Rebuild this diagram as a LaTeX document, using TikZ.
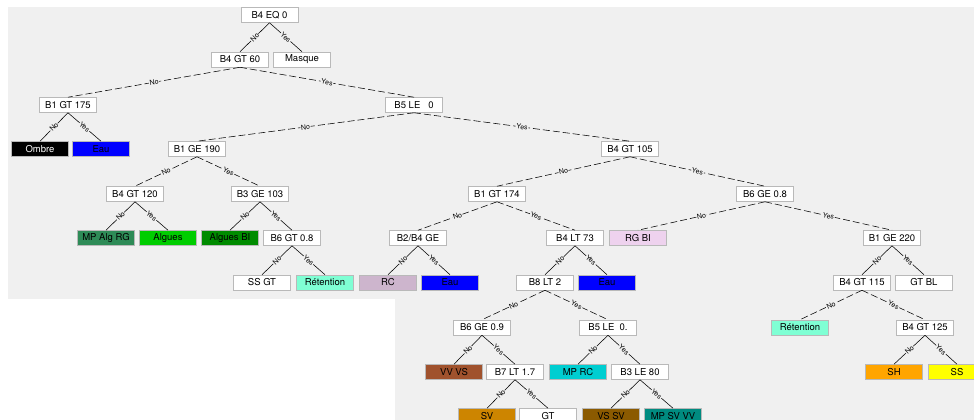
\documentclass[tikz,border=0pt]{standalone}
\usepackage{fontspec}
\setmainfont{TeX Gyre Heros}
\usepackage{tikz}
\usetikzlibrary{positioning}

\definecolor{panel}{RGB}{240,240,240}
\definecolor{ombre}{RGB}{0,0,0}
\definecolor{eau}{RGB}{0,0,255}
\definecolor{mpalgrg}{RGB}{46,139,87}
\definecolor{algues}{RGB}{0,205,0}
\definecolor{alguesbi}{RGB}{0,139,0}
\definecolor{retention}{RGB}{127,255,212}
\definecolor{rc}{RGB}{205,181,205}
\definecolor{rgbi}{RGB}{238,210,238}
\definecolor{vvvs}{RGB}{160,82,45}
\definecolor{mprc}{RGB}{0,206,209}
\definecolor{sv}{RGB}{205,133,0}
\definecolor{vssv}{RGB}{139,90,0}
\definecolor{mpsvvv}{RGB}{0,139,128}
\definecolor{sh}{RGB}{255,165,0}
\definecolor{ss}{RGB}{255,255,0}

\begin{document}
\begin{tikzpicture}[x=1pt,y=-1pt,-,line width=0.55pt]
            \tikzstyle{cond}=[draw=gray!55,fill=white,minimum width=57pt,minimum height=15pt,
                inner sep=0pt,font=\fontsize{9.5}{10}\selectfont]
            \tikzstyle{leaf}=[cond]
            \tikzstyle{lbl}=[sloped,fill=panel,inner sep=0.6pt,font=\fontsize{7}{7}\selectfont]
            \tikzstyle{longedge}=[dash pattern=on 7pt off 3pt]
            \useasboundingbox (0,0) rectangle (974,420);
            \fill[white] (0,0) rectangle (974,420);
            \fill[panel] (8,7) rectangle (974,420);
            \fill[white] (0,299) rectangle (395,420);

            % tests
            \node[cond] (s_0)  at (269.5,15)  {B4 EQ 0};
            \node[cond] (s_1)  at (240,59.5)  {B4 GT 60};
            \node[cond] (s_2)  at (68,105)    {B1 GT 175};
            \node[cond] (s_3)  at (414,105)   {B5 LE~~~0};
            \node[cond] (s_4)  at (197,149)   {B1 GE 190};
            \node[cond] (s_5)  at (630,149)   {B4 GT 105};
            \node[cond] (s_6)  at (135,194)   {B4 GT 120};
            \node[cond] (s_7)  at (260,194)   {B3 GE 103};
            \node[cond] (s_8)  at (497,194)   {B1 GT 174};
            \node[cond] (s_9)  at (765,194)   {B6 GE 0.8};
            \node[cond] (s_10) at (292,238)   {B6 GT 0.8};
            \node[cond] (s_11) at (418,238)   {B2/B4 GE};
            \node[cond] (s_12) at (575,238)   {B4 LT 73};
            \node[cond] (s_13) at (892,238)   {B1 GE 220};
            \node[cond] (s_14) at (545,282.5) {B8 LT 2};
            \node[cond] (s_15) at (862,282.5) {B4 GT 115};
            \node[cond] (s_16) at (482,327.5) {B6 GE 0.9};
            \node[cond] (s_17) at (608,327.5) {B5 LE~~0.};
            \node[cond] (s_18) at (925,327.5) {B4 GT 125};
            \node[cond] (s_19) at (515,372)   {B7 LT 1.7};
            \node[cond] (s_20) at (640,372)   {B3 LE 80};

            % classes
            \node[leaf] (c_0)  at (302,59.5)  {Masque};
            \node[leaf,fill=ombre,text=white] (c_1) at (40,149) {Ombre};
            \node[leaf,fill=eau] (c_2)       at (101,149)   {Eau};
            \node[leaf,fill=mpalgrg] (c_3)   at (106,238)   {MP Alg RG};
            \node[leaf,fill=algues] (c_4)    at (168,238)   {Algues};
            \node[leaf,fill=alguesbi] (c_5)  at (230,238)   {Algues BI};
            \node[leaf] (c_6)                at (262,282.5) {SS GT};
            \node[leaf,fill=retention] (c_7) at (325,282.5) {Rétention};
            \node[leaf,fill=rc] (c_8)        at (388,282.5) {RC};
            \node[leaf,fill=eau] (c_9)       at (450,282.5) {Eau};
            \node[leaf,fill=eau] (c_10)      at (607,282.5) {Eau};
            \node[leaf,fill=rgbi] (c_11)     at (638,238)   {RG BI};
            \node[leaf] (c_12)               at (924,282.5) {GT BL};
            \node[leaf,fill=retention] (c_13) at (800,327.5) {Rétention};
            \node[leaf,fill=vvvs] (c_14)     at (454,372)   {VV VS};
            \node[leaf,fill=mprc] (c_15)     at (578,372)   {MP RC};
            \node[leaf,fill=sh] (c_16)       at (894,372)   {SH};
            \node[leaf,fill=ss] (c_17)       at (957,372)   {SS};
            \node[leaf,fill=sv] (c_18)       at (487,416)   {SV};
            \node[leaf] (c_19)               at (548,416)   {GT};
            \node[leaf,fill=vssv] (c_20)     at (611,416)   {VS SV};
            \node[leaf,fill=mpsvvv] (c_21)   at (673,416)   {MP SV VV};

            \path
                % from s_0
                (s_0.south) edge []           node[lbl] {No}  (s_1.north)
                (s_0.south) edge []           node[lbl] {Yes} (c_0.north)

                % from s_1
                (s_1.south) edge [longedge]   node[lbl] {No}  (s_2.north)
                (s_1.south) edge [longedge]   node[lbl] {Yes} (s_3.north)

                % from s_2
                (s_2.south) edge []           node[lbl] {No}  (c_1.north)
                (s_2.south) edge []           node[lbl] {Yes} (c_2.north)

                % from s_3
                (s_3.south) edge [longedge]   node[lbl] {No}  (s_4.north)
                (s_3.south) edge [longedge]   node[lbl] {Yes} (s_5.north)

                % left half
                (s_4.south) edge [longedge]   node[lbl] {No}  (s_6.north)
                (s_4.south) edge [longedge]   node[lbl] {Yes} (s_7.north)
                (s_6.south) edge []           node[lbl] {No}  (c_3.north)
                (s_6.south) edge []           node[lbl] {Yes} (c_4.north)
                (s_7.south) edge []           node[lbl] {No}  (c_5.north)
                (s_7.south) edge []           node[lbl] {Yes} (s_10.north)
                (s_10.south) edge []          node[lbl] {No}  (c_6.north)
                (s_10.south) edge []          node[lbl] {Yes} (c_7.north)

                % from s_5
                (s_5.south) edge [longedge]   node[lbl] {No}  (s_8.north)
                (s_5.south) edge [longedge]   node[lbl] {Yes} (s_9.north)

                % from s_8
                (s_8.south) edge [longedge]   node[lbl] {No}  (s_11.north)
                (s_8.south) edge [longedge]   node[lbl] {Yes} (s_12.north)
                (s_11.south) edge []          node[lbl] {No}  (c_8.north)
                (s_11.south) edge []          node[lbl] {Yes} (c_9.north)
                (s_12.south) edge []          node[lbl] {No}  (s_14.north)
                (s_12.south) edge []          node[lbl] {Yes} (c_10.north)
                (s_14.south) edge [longedge]  node[lbl] {No}  (s_16.north)
                (s_14.south) edge [longedge]  node[lbl] {Yes} (s_17.north)
                (s_16.south) edge []          node[lbl] {No}  (c_14.north)
                (s_16.south) edge []          node[lbl] {Yes} (s_19.north)
                (s_19.south) edge []          node[lbl] {No}  (c_18.north)
                (s_19.south) edge []          node[lbl] {Yes} (c_19.north)
                (s_17.south) edge []          node[lbl] {No}  (c_15.north)
                (s_17.south) edge []          node[lbl] {Yes} (s_20.north)
                (s_20.south) edge []          node[lbl] {No}  (c_20.north)
                (s_20.south) edge []          node[lbl] {Yes} (c_21.north)

                % from s_9
                (s_9.south) edge [longedge]   node[lbl] {No}  (c_11.north)
                (s_9.south) edge [longedge]   node[lbl] {Yes} (s_13.north)
                (s_13.south) edge []          node[lbl] {No}  (s_15.north)
                (s_13.south) edge []          node[lbl] {Yes} (c_12.north)
                (s_15.south) edge [longedge]  node[lbl] {No}  (c_13.north)
                (s_15.south) edge [longedge]  node[lbl] {Yes} (s_18.north)
                (s_18.south) edge []          node[lbl] {No}  (c_16.north)
                (s_18.south) edge []          node[lbl] {Yes} (c_17.north)
                ;
\end{tikzpicture}
\end{document}
